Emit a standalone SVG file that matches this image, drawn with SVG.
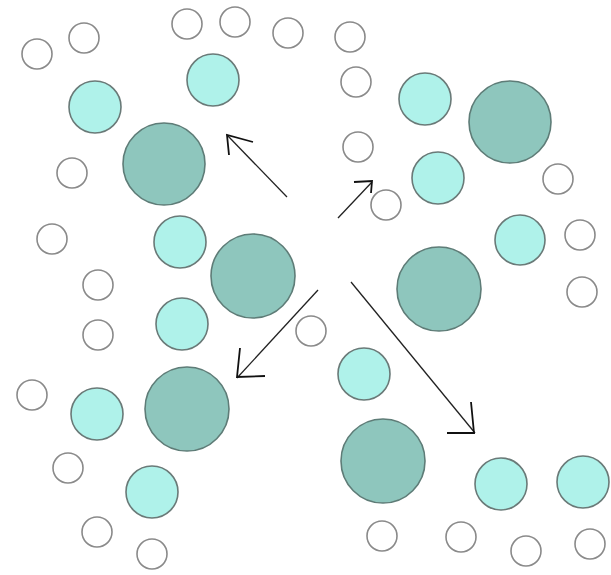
<svg xmlns="http://www.w3.org/2000/svg" width="611" height="575" viewBox="0 0 611 575">
<style>
.s{fill:#fff;stroke:#8a8a8a;stroke-width:1.6}
.l{fill:#aff2ea;stroke:#6a7a78;stroke-width:1.6}
.d{fill:#8ec6bd;stroke:#5e7c77;stroke-width:1.6}
.a{fill:none;stroke:#222;stroke-width:1.3}
.h{fill:none;stroke:#111;stroke-width:1.8}
</style>
<rect width="611" height="575" fill="#fff"/>
<g id="small">
<circle class="s" cx="37" cy="54" r="15"/>
<circle class="s" cx="84" cy="38" r="15"/>
<circle class="s" cx="187" cy="24" r="15"/>
<circle class="s" cx="235" cy="22" r="15"/>
<circle class="s" cx="288" cy="33" r="15"/>
<circle class="s" cx="350" cy="37" r="15"/>
<circle class="s" cx="356" cy="82" r="15"/>
<circle class="s" cx="358" cy="147" r="15"/>
<circle class="s" cx="386" cy="205" r="15"/>
<circle class="s" cx="558" cy="179" r="15"/>
<circle class="s" cx="580" cy="235" r="15"/>
<circle class="s" cx="582" cy="292" r="15"/>
<circle class="s" cx="72" cy="173" r="15"/>
<circle class="s" cx="52" cy="239" r="15"/>
<circle class="s" cx="98" cy="285" r="15"/>
<circle class="s" cx="98" cy="335" r="15"/>
<circle class="s" cx="311" cy="331" r="15"/>
<circle class="s" cx="32" cy="395" r="15"/>
<circle class="s" cx="68" cy="468" r="15"/>
<circle class="s" cx="97" cy="532" r="15"/>
<circle class="s" cx="152" cy="554" r="15"/>
<circle class="s" cx="382" cy="536" r="15"/>
<circle class="s" cx="461" cy="537" r="15"/>
<circle class="s" cx="526" cy="551" r="15"/>
<circle class="s" cx="590" cy="544" r="15"/>
</g>
<g id="light">
<circle class="l" cx="213" cy="80" r="26"/>
<circle class="l" cx="95" cy="107" r="26"/>
<circle class="l" cx="180" cy="242" r="26"/>
<circle class="l" cx="182" cy="324" r="26"/>
<circle class="l" cx="97" cy="414" r="26"/>
<circle class="l" cx="152" cy="492" r="26"/>
<circle class="l" cx="425" cy="99" r="26"/>
<circle class="l" cx="438" cy="178" r="26"/>
<circle class="l" cx="520" cy="240" r="25"/>
<circle class="l" cx="364" cy="374" r="26"/>
<circle class="l" cx="501" cy="484" r="26"/>
<circle class="l" cx="583" cy="482" r="26"/>
</g>
<g id="dark">
<circle class="d" cx="164" cy="164" r="41"/>
<circle class="d" cx="253" cy="276" r="42"/>
<circle class="d" cx="187" cy="409" r="42"/>
<circle class="d" cx="510" cy="122" r="41"/>
<circle class="d" cx="439" cy="289" r="42"/>
<circle class="d" cx="383" cy="461" r="42"/>
</g>
<g id="connectors">
<line class="a" x1="287" y1="197" x2="227" y2="135"/>
<polyline class="h" points="229,155 227,135 253,142"/>
<line class="a" x1="338" y1="218" x2="372" y2="182"/>
<polyline class="h" points="354,182 372,181 371,193"/>
<line class="a" x1="318" y1="290" x2="237" y2="378"/>
<polyline class="h" points="240,348 237,377 265,376"/>
<line class="a" x1="351" y1="282" x2="475" y2="433"/>
<polyline class="h" points="471,402 474,433 447,433"/>
</g>
</svg>
